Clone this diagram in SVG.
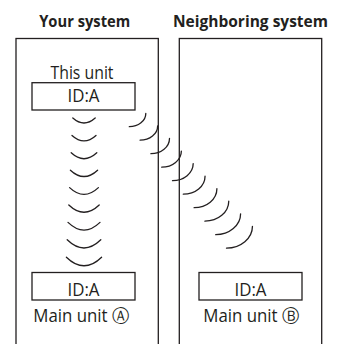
<svg xmlns="http://www.w3.org/2000/svg" width="341" height="344" viewBox="0 0 341 344">
  <style>
    .frame { fill: none; stroke: #231f20; stroke-width: 1.3; }
    .box { fill: #ffffff; stroke: #231f20; stroke-width: 1.3; }
    .wave { fill: none; stroke: #231f20; stroke-width: 1.3; stroke-linecap: round; }
    .head { font-family: "Open Sans", "Noto Sans", "DejaVu Sans", sans-serif; font-weight: bold; font-size: 15.5px; fill: #231f20; text-anchor: middle; }
    .lbl { font-family: "Open Sans", "Noto Sans", "DejaVu Sans", sans-serif; font-size: 17.5px; fill: #231f20; text-anchor: middle; }
  </style>
  <rect width="341" height="344" fill="#ffffff"/>

  <g id="your-system">
    <text class="head" x="84.7" y="26.5" textLength="91" lengthAdjust="spacingAndGlyphs">Your system</text>
    <rect class="frame" x="16" y="38.5" width="142.3" height="320"/>
  </g>

  <g id="neighboring-system">
    <text class="head" x="250.5" y="26.5" textLength="155" lengthAdjust="spacingAndGlyphs">Neighboring system</text>
    <rect class="frame" x="179.3" y="38.5" width="142.4" height="320"/>
  </g>

  <g id="signals">
    <path class="wave" d="M72.8 118 Q84 128 95.2 118"/>
    <path class="wave" d="M72 135.4 Q84 146.3 96 135.4"/>
    <path class="wave" d="M71.2 152.8 Q84 164.6 96.8 152.8"/>
    <path class="wave" d="M70.4 170.2 Q84 182.9 97.6 170.2"/>
    <path class="wave" d="M69.6 187.6 Q84 201.2 98.4 187.6"/>
    <path class="wave" d="M68.8 205 Q84 219.5 99.2 205"/>
    <path class="wave" d="M68 222.4 Q84 237.8 100 222.4"/>
    <path class="wave" d="M67.2 239.8 Q84 256.1 100.8 239.8"/>
    <path class="wave" d="M66.4 257.2 Q84 274.4 101.6 257.2"/>

    <path class="wave" d="M129.3 126.7 A16.5 13.3 0 0 0 145.8 113.4"/>
    <path class="wave" d="M140.1 140.2 A17.55 14.25 0 0 0 157.65 125.95"/>
    <path class="wave" d="M150.9 153.7 A18.6 15.2 0 0 0 169.5 138.5"/>
    <path class="wave" d="M161.7 167.2 A19.65 16.15 0 0 0 181.35 151.05"/>
    <path class="wave" d="M172.5 180.7 A20.7 17.1 0 0 0 193.2 163.6"/>
    <path class="wave" d="M183.3 194.2 A21.75 18.05 0 0 0 205.05 176.15"/>
    <path class="wave" d="M194.1 207.7 A22.8 19 0 0 0 216.9 188.7"/>
    <path class="wave" d="M204.9 221.2 A23.85 19.95 0 0 0 228.75 201.25"/>
    <path class="wave" d="M215.7 234.7 A24.9 20.9 0 0 0 240.6 213.8"/>
    <path class="wave" d="M226.5 248.2 A25.95 21.85 0 0 0 252.45 226.35"/>
  </g>

  <g id="this-unit">
    <text class="lbl" x="82" y="79" textLength="63" lengthAdjust="spacingAndGlyphs">This unit</text>
    <rect class="box" x="32" y="82.7" width="103" height="27.3"/>
    <text class="lbl" x="83.5" y="102" textLength="32" lengthAdjust="spacingAndGlyphs">ID:A</text>
  </g>

  <g id="main-unit-a">
    <rect class="box" x="32" y="272.5" width="103" height="27.5"/>
    <text class="lbl" x="83.5" y="296.3" textLength="32" lengthAdjust="spacingAndGlyphs">ID:A</text>
    <text class="lbl" x="81.3" y="321.5" textLength="96" lengthAdjust="spacingAndGlyphs">Main unit Ⓐ</text>
  </g>

  <g id="main-unit-b">
    <rect class="box" x="199" y="272.5" width="103" height="27.5"/>
    <text class="lbl" x="250.5" y="296.3" textLength="32" lengthAdjust="spacingAndGlyphs">ID:A</text>
    <text class="lbl" x="251.3" y="321.5" textLength="96" lengthAdjust="spacingAndGlyphs">Main unit Ⓑ</text>
  </g>
</svg>
